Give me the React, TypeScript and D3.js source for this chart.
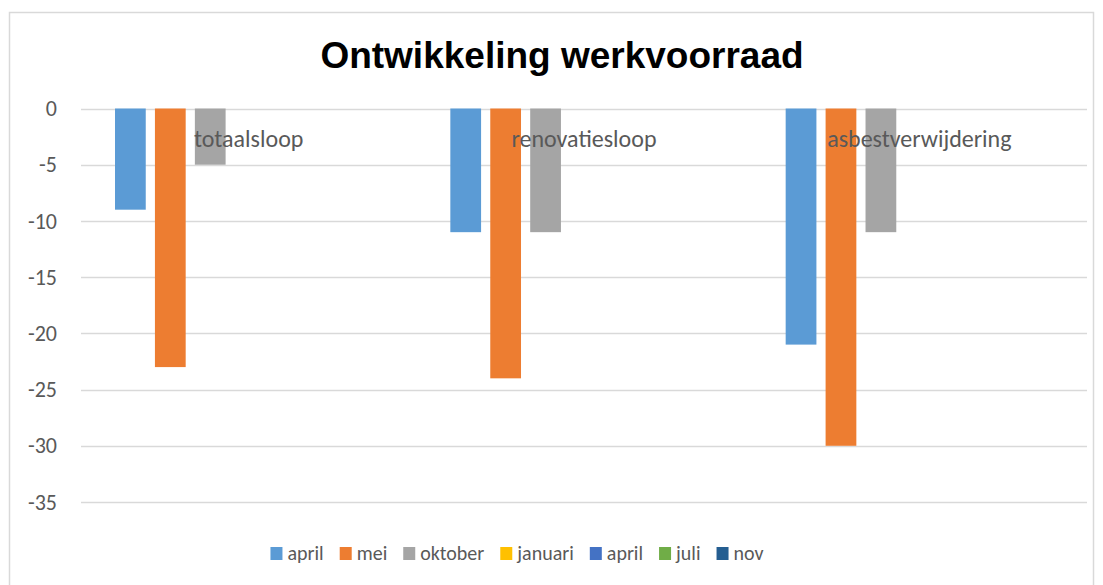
import * as d3 from "d3";
import React, { useEffect, useRef } from "react";

const categories = ["totaalsloop", "renovatiesloop", "asbestverwijdering"];
const seriesNames = ["april", "mei", "oktober", "januari", "april", "juli", "nov"];
const seriesColors = ["#5B9BD5", "#ED7D31", "#A5A5A5", "#FFC000", "#4472C4", "#70AD47", "#255E91"];
// values per series, one per category (null = no value)
const aprilValues = [-9, -11, -21];
const meiValues = [-23, -24, -30];
const oktoberValues = [-5, -11, -11];
const januariValues = [null, null, null];
const april2Values = [null, null, null];
const juliValues = [null, null, null];
const novValues = [null, null, null];
const yTicks = [0, -5, -10, -15, -20, -25, -30, -35];

const allValues = [aprilValues, meiValues, oktoberValues, januariValues, april2Values, juliValues, novValues];

const App = () => {
  const ref = useRef<SVGSVGElement>(null);

  useEffect(() => {
    const font = "Calibri, Carlito, 'Open Sans', sans-serif";
    const textColor = "#595959";

    const svg = d3.select(ref.current);
    svg.selectAll("*").remove();

    // chart border
    svg
      .append("rect")
      .attr("x", 9.5)
      .attr("y", 12.5)
      .attr("width", 1084)
      .attr("height", 590)
      .attr("fill", "white")
      .attr("stroke", "#D9D9D9")
      .attr("stroke-width", 1.5);

    svg
      .append("text")
      .attr("x", 562)
      .attr("y", 68)
      .attr("text-anchor", "middle")
      .attr("font-family", "'Liberation Sans', Arial, sans-serif")
      .attr("font-weight", "bold")
      .attr("font-size", 37)
      .attr("fill", "black")
      .text("Ontwikkeling werkvoorraad");

    const left = 81;
    const right = 1087;

    const y = d3.scaleLinear().domain([-35, 0]).range([502, 108.5]);

    const x0 = d3.scaleBand<string>().domain(categories).range([left, right]);
    const x1 = d3
      .scaleBand<number>()
      .domain(d3.range(seriesNames.length))
      .range([34, x0.bandwidth() - 31])
      .paddingInner(0.23);

    // gridlines
    svg
      .append("g")
      .selectAll("line")
      .data(yTicks)
      .enter()
      .append("line")
      .attr("x1", left)
      .attr("x2", right)
      .attr("y1", (d) => Math.round(y(d)) + 0.5)
      .attr("y2", (d) => Math.round(y(d)) + 0.5)
      .attr("stroke", "#D9D9D9")
      .attr("stroke-width", 1.5);

    // tick labels
    svg
      .append("g")
      .selectAll("text")
      .data(yTicks)
      .enter()
      .append("text")
      .attr("x", 57)
      .attr("y", (d) => y(d))
      .attr("dy", "0.35em")
      .attr("text-anchor", "end")
      .attr("font-family", font)
      .attr("font-size", 22)
      .attr("fill", textColor)
      .text((d) => d);

    // bars
    const groups = svg
      .append("g")
      .selectAll("g")
      .data(categories)
      .enter()
      .append("g")
      .attr("transform", (d) => `translate(${x0(d)},0)`);

    groups
      .selectAll("rect")
      .data((_, ci) =>
        allValues
          .map((vals, si) => ({ si, v: vals[ci] }))
          .filter((d) => d.v !== null)
      )
      .enter()
      .append("rect")
      .attr("x", (d) => x1(d.si) as number)
      .attr("width", x1.bandwidth())
      .attr("y", y(0))
      .attr("height", (d) => y(d.v as number) - y(0))
      .attr("fill", (d) => seriesColors[d.si]);

    // category labels at the axis
    svg
      .append("g")
      .selectAll("text")
      .data(categories)
      .enter()
      .append("text")
      .attr("x", (d) => (x0(d) as number) + x0.bandwidth() / 2)
      .attr("y", 147)
      .attr("text-anchor", "middle")
      .attr("font-family", font)
      .attr("font-size", 24)
      .attr("fill", textColor)
      .text((d) => d);

    // legend
    const legend = svg.append("g");
    const items = legend
      .selectAll("g")
      .data(seriesNames)
      .enter()
      .append("g");
    items
      .append("rect")
      .attr("width", 12)
      .attr("height", 13)
      .attr("y", 547)
      .attr("fill", (_, i) => seriesColors[i]);
    items
      .append("text")
      .attr("x", 17)
      .attr("y", 553)
      .attr("dy", "0.35em")
      .attr("font-family", font)
      .attr("font-size", 20)
      .attr("fill", textColor)
      .text((d) => d);

    const widths: number[] = [];
    items.select("text").each(function () {
      widths.push((this as SVGTextElement).getComputedTextLength());
    });
    const itemW = widths.map((w) => 17 + w);
    const gap = 16;
    const total = d3.sum(itemW) + gap * (itemW.length - 1);
    let cx = 517 - total / 2;
    items.attr("transform", (_, i) => {
      const t = `translate(${cx},0)`;
      cx += itemW[i] + gap;
      return t;
    });
  }, []);

  return (
    <svg
      ref={ref}
      width={1103}
      height={585}
      style={{ position: "absolute", left: 0, top: 0 }}
    />
  );
};

export default App;
